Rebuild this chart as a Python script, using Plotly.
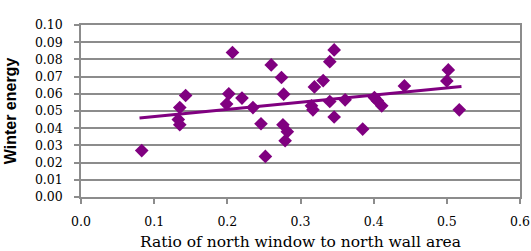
import plotly.graph_objects as go

# Data
ratio = [0.083, 0.143, 0.135, 0.133, 0.135, 0.207, 0.202, 0.199, 0.220, 0.235,
         0.246, 0.252, 0.260, 0.274, 0.277, 0.276, 0.282, 0.279, 0.315, 0.317,
         0.319, 0.331, 0.340, 0.340, 0.346, 0.346, 0.361, 0.385, 0.401, 0.405,
         0.411, 0.442, 0.500, 0.502, 0.517]
winter_energy = [0.027, 0.059, 0.052, 0.045, 0.042, 0.084, 0.060, 0.054, 0.0575, 0.052,
                 0.0426, 0.0236, 0.0768, 0.0695, 0.0598, 0.042, 0.038, 0.0327, 0.053, 0.0507,
                 0.064, 0.0677, 0.0787, 0.0555, 0.0855, 0.0465, 0.0565, 0.0395, 0.0578, 0.056,
                 0.053, 0.0646, 0.0675, 0.0739, 0.0507]
trend_x = [0.08, 0.52]
trend_y = [0.0459, 0.0642]

purple = "#800080"
grid = "#8c8c8c"
serif = "DejaVu Serif"

fig = go.Figure()
fig.add_trace(go.Scatter(x=ratio, y=winter_energy, mode="markers",
                         marker=dict(symbol="diamond", size=10.5, color=purple,
                                     line=dict(width=0)),
                         showlegend=False, hoverinfo="skip"))
fig.add_trace(go.Scatter(x=trend_x, y=trend_y, mode="lines",
                         line=dict(color=purple, width=3),
                         showlegend=False, hoverinfo="skip"))

fig.update_layout(
    width=531, height=251,
    margin=dict(l=81, r=11, t=25, b=54),
    paper_bgcolor="white", plot_bgcolor="white",
    xaxis=dict(range=[0, 0.6], dtick=0.1, tick0=0, tickformat=".1f",
               automargin=False,
               showgrid=False, zeroline=False,
               showline=True, linecolor=grid, linewidth=1.5, mirror=True,
               ticks="outside", ticklen=5, tickcolor=grid, tickwidth=1.5,
               ticklabelstandoff=7,
               tickfont=dict(family=serif, size=12.5, color="black"),
               title=dict(text="Ratio of north window to north wall area",
                          font=dict(family=serif, size=15.5, color="black"),
                          standoff=10)),
    yaxis=dict(range=[0, 0.1], dtick=0.01, tick0=0, tickformat=".2f",
               automargin=False,
               showgrid=True, gridcolor=grid, gridwidth=1.5, zeroline=False,
               showline=True, linecolor=grid, linewidth=1.5, mirror=True,
               ticks="outside", ticklen=5, tickcolor=grid, tickwidth=1.5,
               ticklabelstandoff=9,
               tickfont=dict(family=serif, size=12.5, color="black"),
               title=dict(text="<b>Winter energy</b>",
                          font=dict(family="Liberation Sans", size=16, color="black"),
                          standoff=14)),
)

fig.write_html(
    "out.html",
    config={"displayModeBar": False},
    post_script="document.body.style.margin='0';document.body.style.overflow='hidden';",
)
